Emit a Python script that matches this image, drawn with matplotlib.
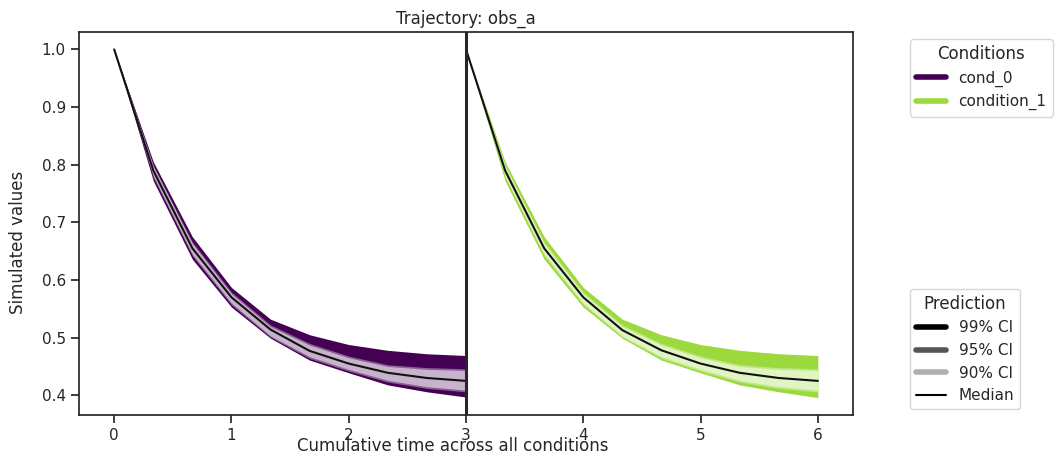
import numpy as np
import matplotlib
matplotlib.use("Agg")
import matplotlib.pyplot as plt
from matplotlib.lines import Line2D
import matplotlib.colors as mcolors
import seaborn as sns

sns.set_theme(style="ticks")

# ------------ DATA ------------
conditions = ["cond_0", "condition_1"]
cond_colors = ["#440154", "#9bd93c"]

# time points of each condition (cumulative)
t_cond0 = [0, 1/3, 2/3, 1, 4/3, 5/3, 2, 7/3, 8/3, 3]
t_cond1 = [3, 10/3, 11/3, 4, 13/3, 14/3, 5, 16/3, 17/3, 6]

median_0 = [1.0, 0.790, 0.655, 0.570, 0.514, 0.477, 0.455, 0.439, 0.430, 0.425]
ci99_hi_0 = [1.0, 0.805, 0.675, 0.587, 0.532, 0.505, 0.488, 0.478, 0.472, 0.469]
ci95_hi_0 = [1.0, 0.799, 0.666, 0.579, 0.522, 0.490, 0.468, 0.453, 0.448, 0.446]
ci90_hi_0 = [1.0, 0.797, 0.663, 0.576, 0.519, 0.487, 0.465, 0.450, 0.445, 0.443]
ci90_lo_0 = [1.0, 0.781, 0.645, 0.560, 0.503, 0.467, 0.445, 0.426, 0.415, 0.409]
ci95_lo_0 = [1.0, 0.778, 0.642, 0.557, 0.501, 0.464, 0.442, 0.423, 0.412, 0.406]
ci99_lo_0 = [1.0, 0.772, 0.636, 0.553, 0.499, 0.461, 0.439, 0.418, 0.406, 0.397]

median_1 = [1.0, 0.790, 0.655, 0.570, 0.513, 0.478, 0.455, 0.439, 0.430, 0.425]
ci99_hi_1 = [1.0, 0.805, 0.675, 0.587, 0.532, 0.505, 0.488, 0.478, 0.472, 0.469]
ci95_hi_1 = [1.0, 0.799, 0.666, 0.579, 0.522, 0.490, 0.468, 0.453, 0.448, 0.446]
ci90_hi_1 = [1.0, 0.797, 0.663, 0.576, 0.519, 0.487, 0.465, 0.450, 0.445, 0.443]
ci90_lo_1 = [1.0, 0.781, 0.645, 0.560, 0.503, 0.467, 0.445, 0.426, 0.415, 0.409]
ci95_lo_1 = [1.0, 0.778, 0.642, 0.557, 0.501, 0.464, 0.442, 0.423, 0.412, 0.406]
ci99_lo_1 = [1.0, 0.772, 0.636, 0.553, 0.499, 0.461, 0.439, 0.418, 0.406, 0.396]

condition_bounds = [3]
# ------------------------------


def lighten(color, amount):
    # blend colour with white, amount = share of the original colour
    c = np.array(mcolors.to_rgb(color))
    return tuple(amount * c + (1 - amount) * np.ones(3))


fig = plt.figure(figsize=(10.61, 4.66), dpi=100)
ax = fig.add_axes([79 / 1061, 51 / 466, 774 / 1061, 383 / 466])

series = [
    (t_cond0, median_0, (ci99_lo_0, ci99_hi_0), (ci95_lo_0, ci95_hi_0), (ci90_lo_0, ci90_hi_0)),
    (t_cond1, median_1, (ci99_lo_1, ci99_hi_1), (ci95_lo_1, ci95_hi_1), (ci90_lo_1, ci90_hi_1)),
]

for (t, med, ci99, ci95, ci90), color in zip(series, cond_colors):
    ax.fill_between(t, ci99[0], ci99[1], color=color, linewidth=0, zorder=1)
    ax.fill_between(t, ci95[0], ci95[1], color=lighten(color, 0.62), linewidth=0, zorder=2)
    ax.fill_between(t, ci90[0], ci90[1], color=lighten(color, 0.3), linewidth=0, zorder=3)
    ax.plot(t, med, color="#111111", linewidth=1.5, zorder=4)

for b in condition_bounds:
    ax.axvline(b, color="#262626", linewidth=2.2, zorder=5)

ax.set_title("Trajectory: obs_a", fontsize=12)
ax.set_xticks(range(0, 7))
ax.set_yticks([0.4, 0.5, 0.6, 0.7, 0.8, 0.9, 1.0])
ax.tick_params(axis="both", labelsize=11)

fig.text(453 / 1061, 20 / 466, "Cumulative time across all conditions",
         ha="center", va="center", fontsize=12, color="0.15")
fig.text(18 / 1061, 224 / 466, "Simulated values", rotation=90,
         ha="center", va="center", fontsize=12, color="0.15")

cond_handles = [Line2D([0], [0], color=c, linewidth=4) for c in cond_colors]
leg1 = fig.legend(cond_handles, conditions, title="Conditions", loc="upper left",
                  bbox_to_anchor=(902 / 1061, 1 - 31 / 466), fontsize=11, title_fontsize=12)

pred_handles = [
    Line2D([0], [0], color="black", linewidth=4),
    Line2D([0], [0], color="#555555", linewidth=4),
    Line2D([0], [0], color="#b0b0b0", linewidth=4),
    Line2D([0], [0], color="black", linewidth=1.5),
]
pred_labels = ["99% CI", "95% CI", "90% CI", "Median"]
leg2 = fig.legend(pred_handles, pred_labels, title="Prediction", loc="upper left",
                  bbox_to_anchor=(902 / 1061, 1 - 281 / 466), fontsize=11, title_fontsize=12)

plt.savefig("out.png", dpi=100)
